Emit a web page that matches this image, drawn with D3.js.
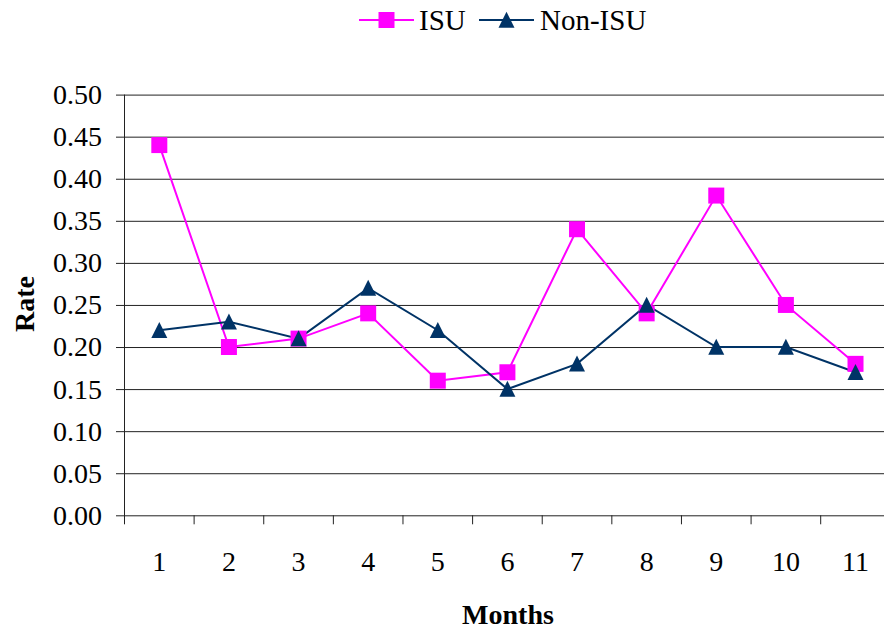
<!DOCTYPE html>
<html><head><meta charset="utf-8">
<script src="https://cdn.jsdelivr.net/npm/d3@7"></script>
<style>
html,body{margin:0;padding:0;background:#fff;}
</style></head>
<body>
<svg id="chart" width="884" height="630"></svg>
<script>
const months = ["1","2","3","4","5","6","7","8","9","10","11"];
const isu = [0.44,0.20,0.21,0.24,0.16,0.17,0.34,0.24,0.38,0.25,0.18];
const nonIsu = [0.22,0.23,0.21,0.27,0.22,0.15,0.18,0.25,0.20,0.20,0.17];
const yTicks = [0,0.05,0.10,0.15,0.20,0.25,0.30,0.35,0.40,0.45,0.50];
const seriesNames = ["ISU","Non-ISU"];
const seriesColors = ["#FF00FF","#003366"];

const W = 884, H = 630;
const FONT = "Liberation Serif";
const plotLeft = 124.5, bandW = 69.62;
const plotTop = 94.6, plotBottom = 515.3;

const svg = d3.select("#chart");
const x = d3.scaleBand().domain(months).range([plotLeft, plotLeft + bandW*months.length]).padding(0);
const y = d3.scaleLinear().domain([0,0.5]).range([plotBottom, plotTop]);

// gridlines + y labels
const yAxis = d3.axisLeft(y).tickValues(yTicks).tickFormat(d3.format(".2f"))
  .tickSizeInner(-(W - 116)).tickSizeOuter(0).tickPadding(14);
const gy = svg.append("g").attr("transform","translate(116,0)").call(yAxis);
gy.attr("font-family", FONT);
gy.select(".domain").remove();
gy.selectAll(".tick line").attr("stroke","#222").attr("stroke-width",1);
gy.selectAll(".tick text").style("font-size","28px").attr("fill","#000").style("font-family",FONT);

// y axis line
svg.append("line").attr("x1",plotLeft).attr("x2",plotLeft).attr("y1",y(0.5)).attr("y2",y(0)+9)
  .attr("stroke","#222").attr("stroke-width",1);

// x axis: boundary ticks
svg.append("g").selectAll("line").data(months.slice(1)).join("line")
  .attr("x1",d=>x(d)).attr("x2",d=>x(d)).attr("y1",y(0)).attr("y2",y(0)+9)
  .attr("stroke","#222").attr("stroke-width",1);

// x labels
const xAxis = d3.axisBottom(x).tickSize(0).tickPadding(0);
const gx = svg.append("g").attr("transform",`translate(0,${y(0)})`).call(xAxis);
gx.attr("font-family", FONT);
gx.select(".domain").remove();
gx.selectAll(".tick text").style("font-size","28px").attr("fill","#000").attr("y",56).attr("dy",0)
  .style("font-family",FONT);

// axis titles
svg.append("text").attr("x",508).attr("y",624).attr("text-anchor","middle")
  .style("font-family",FONT).style("font-size","28px").style("font-weight","bold").text("Months");
svg.append("text").attr("transform",`translate(34,304) rotate(-90)`).attr("text-anchor","middle")
  .style("font-family",FONT).style("font-size","28px").style("font-weight","bold").text("Rate");

// lines
const cx = d => x(d) + x.bandwidth()/2;
const data = [isu, nonIsu];
const line = d3.line().x((v,i)=>cx(months[i])).y(v=>y(v));
data.forEach((vals,si)=>{
  svg.append("path").datum(vals).attr("d",line).attr("fill","none")
    .attr("stroke",seriesColors[si]).attr("stroke-width",2);
});
const sq = d3.symbol().type(d3.symbolSquare).size(16*16);
const triType = {draw(ctx, size){ const h = Math.sqrt(size); ctx.moveTo(0,-h/2-0.3); ctx.lineTo(h/2,h/2-0.3); ctx.lineTo(-h/2,h/2-0.3); ctx.closePath(); }};
const tri = d3.symbol().type(triType).size(16*16);
svg.append("g").selectAll("path").data(isu).join("path")
  .attr("transform",(v,i)=>`translate(${cx(months[i])},${y(v)})`).attr("d",sq).attr("fill",seriesColors[0]);
svg.append("g").selectAll("path").data(nonIsu).join("path")
  .attr("transform",(v,i)=>`translate(${cx(months[i])},${y(v)})`).attr("d",tri).attr("fill",seriesColors[1]);

// legend
const leg = svg.append("g");
const legItems = [{x:359, tx:419, sym:sq},{x:479, tx:540, sym:tri}];
legItems.forEach((it,i)=>{
  leg.append("line").attr("x1",it.x).attr("x2",it.x+55).attr("y1",20).attr("y2",20)
    .attr("stroke",seriesColors[i]).attr("stroke-width",2);
  leg.append("path").attr("transform",`translate(${it.x+27.5},20)`).attr("d",it.sym).attr("fill",seriesColors[i]);
  leg.append("text").attr("x",it.tx).attr("y",30).style("font-family",FONT).style("font-size","29px")
    .attr("fill","#000").text(seriesNames[i]);
});
</script>
</body></html>
